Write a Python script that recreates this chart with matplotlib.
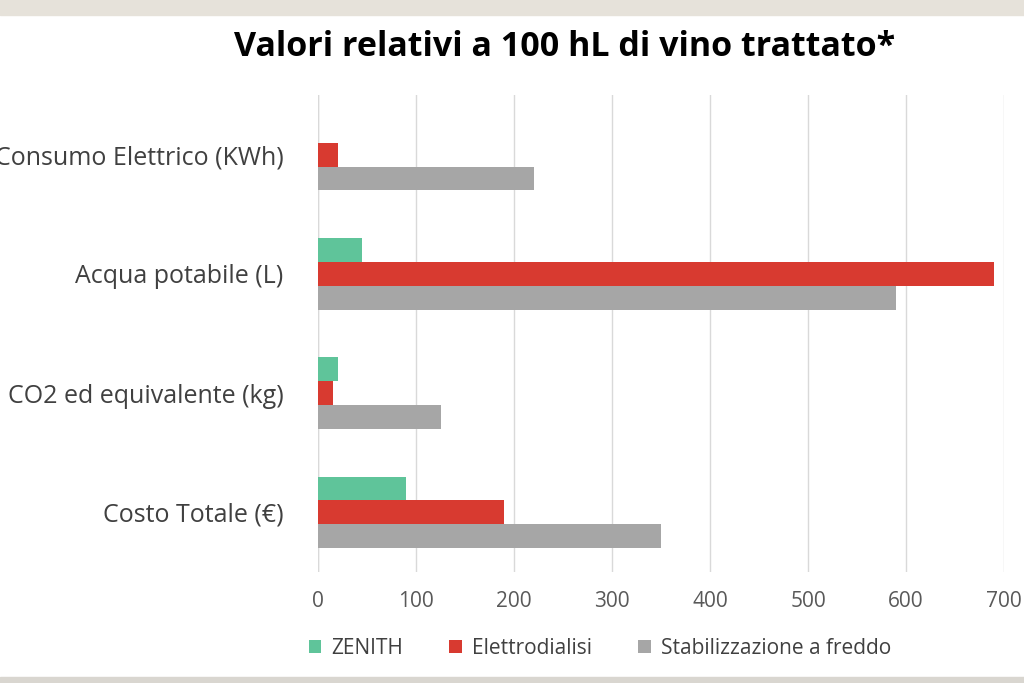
import matplotlib
matplotlib.use("Agg")
import matplotlib.pyplot as plt
from matplotlib.patches import Rectangle
import numpy as np

categories = ["Costo Totale (€)", "CO2 ed equivalente (kg)", "Acqua potabile (L)", "Consumo Elettrico (KWh)"]
zenith = [90, 20, 45, 0]
elettro = [190, 15, 690, 20]
stab = [350, 125, 590, 220]
series_names = ["ZENITH", "Elettrodialisi", "Stabilizzazione a freddo"]
colors = ["#5fc49a", "#d83a30", "#a6a6a6"]

plt.rcParams['font.family'] = ['Open Sans', 'DejaVu Sans']
fig = plt.figure(figsize=(10.24, 6.83), dpi=100)
fig.patches.append(Rectangle((0, 1 - 15/683), 1, 15/683, transform=fig.transFigure, color="#e6e2da", zorder=0))
fig.patches.append(Rectangle((0, 0), 1, 6/683, transform=fig.transFigure, color="#d9d6d0", zorder=0))
ax = fig.add_axes([318/1024, 1 - 572/683, (1004-318)/1024, (572-95)/683])
y = np.arange(len(categories))
h = 0.2
for vals, off, c, n in zip([zenith, elettro, stab], [h, 0, -h], colors, series_names):
    ax.barh(y + off, vals, height=h, color=c, label=n, zorder=3)
ax.set_xlim(0, 700)
ax.set_ylim(-0.5, 3.5)
ax.set_xticks(range(0, 701, 100))
ax.set_yticks(y)
ax.set_yticklabels(categories, fontsize=18, color="#404040")
ax.tick_params(axis='x', labelsize=15, colors="#595959", length=0, pad=14)
ax.tick_params(axis='y', length=0, pad=25)
ax.grid(axis='x', color="#d9d9d9", linewidth=1, zorder=0)
for s in ax.spines.values():
    s.set_visible(False)
ax.axvline(0, color="#d9d9d9", linewidth=1, zorder=1)
fig.text(565/1024, 1 - 47/683, "Valori relativi a 100 hL di vino trattato*", ha='center', va='center',
         fontsize=24.5, fontweight='bold', color="black")
fig.legend(loc='center', bbox_to_anchor=(600/1024, 1 - 648/683), ncol=3, frameon=False,
           fontsize=15, handlelength=0.6, handleheight=0.6, columnspacing=2.2, handletextpad=0.5,
           labelcolor="#404040")
fig.savefig("out.png", dpi=100)
